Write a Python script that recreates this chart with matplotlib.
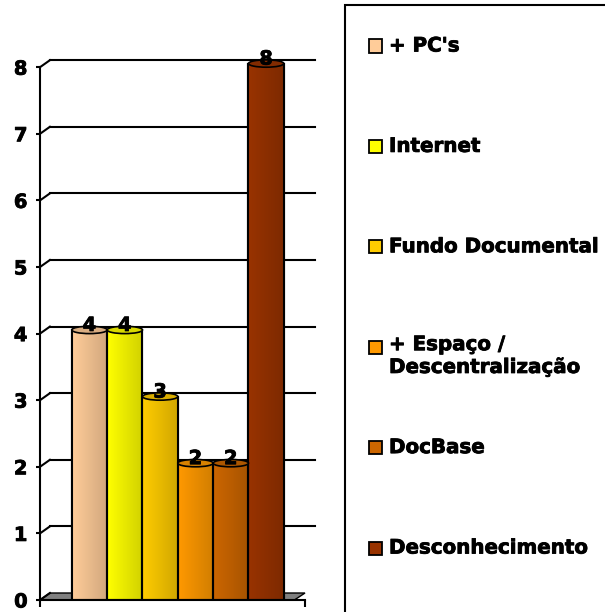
import numpy as np
import matplotlib
matplotlib.use("Agg")
from matplotlib import pyplot as plt
from matplotlib import transforms as mtransforms
from matplotlib import patheffects as pe
from matplotlib.patches import Rectangle, Ellipse, Polygon
from matplotlib.colors import to_rgb

plt.rcParams["font.family"] = "DejaVu Sans"
plt.rcParams["font.weight"] = "bold"

categories = ["+ PC's", "Internet", "Fundo Documental",
              "+ Espaço /\nDescentralização", "DocBase", "Desconhecimento"]
values = [4, 4, 3, 2, 2, 8]
colors = ["#FFCC99", "#FFFF00", "#FFCC00", "#FF9900", "#CC6600", "#993300"]
yticks = [0, 1, 2, 3, 4, 5, 6, 7, 8]

# slightly heavier strokes, like the original chart font
heavy = [pe.withStroke(linewidth=0.6, foreground="black")]

W, H = 605, 612
fig = plt.figure(figsize=(W / 100, H / 100), dpi=100)
ax = fig.add_axes([40 / W, 12 / H, 265 / W, 8.3 * 66.6 / H])

# offset of the back wall (pseudo 3D depth)
back = ax.transData + mtransforms.ScaledTranslation(0.10, 0.07, fig.dpi_scale_trans)

# floor
floor = Polygon([[0, 0], [7.2, 0], [7.5, 0.105], [0.28, 0.105]], closed=True,
                facecolor="#808080", edgecolor="black", lw=1, zorder=1,
                clip_on=False)
ax.add_patch(floor)

# grid lines on the back wall + slanted ticks
for v in yticks[1:]:
    ax.plot([0, 7.5], [v, v], color="black", lw=1.5, transform=back,
            zorder=1, clip_on=False)
for v in yticks:
    ax.plot([0, 0.28], [v, v + 0.105], color="black", lw=1.5,
            zorder=1, clip_on=False)

xpos = np.arange(len(values)) + 1.4
bars = ax.bar(xpos, [v + 0.055 for v in values], width=1.0, color=colors,
              edgecolor="black", lw=1.5, zorder=3)

for x, v, c, b in zip(xpos, values, colors, bars):
    rgb = np.array(to_rgb(c))
    shade = np.linspace(1.0, 0.82, 40)
    grad = np.clip(rgb[None, :] * shade[:, None], 0, 1)[None, :, :]
    im = ax.imshow(grad, extent=[x - 0.5, x + 0.5, 0, v + 0.055],
                   aspect="auto", zorder=3.5)
    im.set_clip_path(b)
    ax.add_patch(Rectangle((x - 0.5, 0), 1.0, v + 0.055, fill=False,
                           edgecolor="black", lw=1.5, zorder=4))
    ax.add_patch(Ellipse((x, v + 0.055), 1.0, 0.11,
                         facecolor=np.clip(rgb * 0.85, 0, 1),
                         edgecolor="black", lw=1.2, zorder=5))
    ax.text(x, v - 0.02, str(v), ha="center", va="bottom", fontsize=14,
            fontweight="bold", zorder=6, clip_on=False, path_effects=heavy)

ax.set_xlim(0, 7.5)
ax.set_ylim(0, 8.3)

ax.spines["top"].set_visible(False)
ax.spines["right"].set_visible(False)
ax.spines["left"].set_bounds(0, 8)
ax.spines["left"].set_linewidth(1.5)
ax.spines["bottom"].set_linewidth(1.5)
ax.spines["left"].set_zorder(7)
ax.spines["bottom"].set_zorder(7)
ax.set_yticks(yticks)
ax.tick_params(axis="y", length=3, width=1.5, pad=6, labelsize=14)
ax.set_xticks([0, 7.5])
ax.set_xticklabels([])
ax.tick_params(axis="x", length=5, width=1.5, direction="out")
for lab in ax.get_yticklabels():
    lab.set_fontweight("bold")
    lab.set_path_effects(heavy)

# legend box
fig.patches.append(Rectangle((345 / W, -0.1), 0.6, 1 - 5 / H + 0.1,
                             transform=fig.transFigure, fill=False,
                             edgecolor="black", lw=1.5))
for i, (lab, c) in enumerate(zip(categories, colors)):
    yc = 46 + i * 100.4
    fig.patches.append(Rectangle((369 / W, 1 - (yc + 6.5) / H), 13 / W, 13 / H,
                                 transform=fig.transFigure, facecolor=c,
                                 edgecolor="black", lw=1.3))
    if "\n" in lab:
        fig.text(389 / W, 1 - (yc - 12) / H, lab, ha="left", va="top",
                 fontsize=14.3, fontweight="bold", linespacing=1.25,
                 path_effects=heavy)
    else:
        fig.text(389 / W, 1 - yc / H, lab, ha="left", va="center",
                 fontsize=14.3, fontweight="bold", path_effects=heavy)

fig.savefig("out.png", dpi=100)
